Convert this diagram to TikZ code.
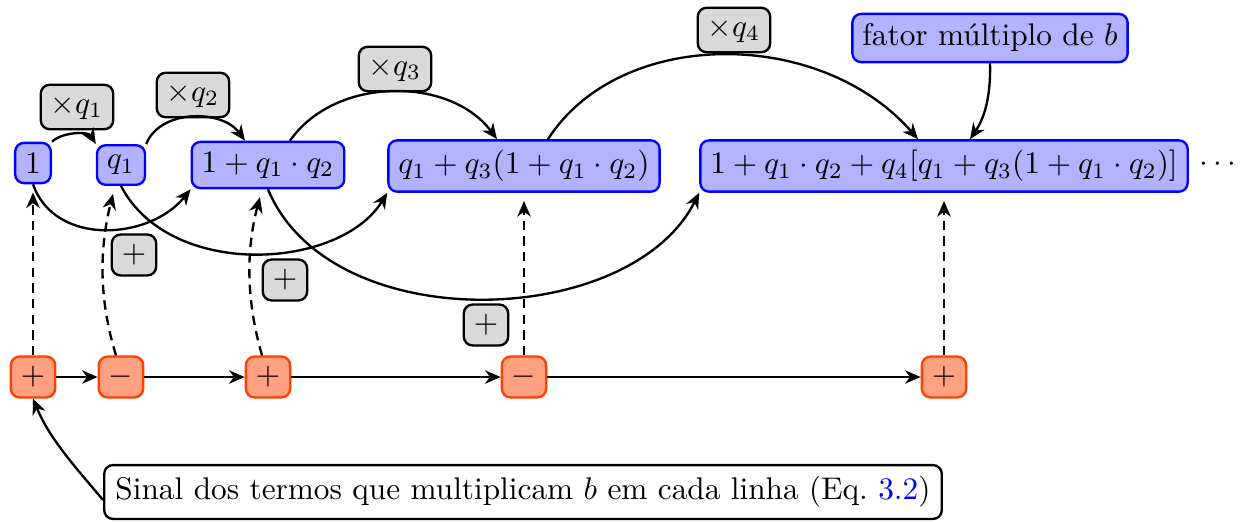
\documentclass[tikz,border=0pt]{standalone}
\usetikzlibrary{arrows.meta,calc}
\definecolor{sgnfill}{RGB}{255,160,128}
\definecolor{sgndraw}{RGB}{255,64,0}
\begin{document}
\begin{tikzpicture}[x=0.3195pt,y=-0.3195pt,
  box/.style={rounded corners=2.8pt, line width=0.75pt, inner sep=3.2pt},
  term/.style={box, draw=blue, fill=blue!30},
  oper/.style={box, draw=black, fill=gray!30},
  sgn/.style={box, draw=sgndraw, fill=sgnfill},
  note/.style={box, draw=black, fill=white, inner sep=3.6pt},
  conn/.style={line width=0.75pt, -{Stealth[length=5pt,width=4.3pt,inset=1.6pt]}},
  link/.style={conn, dash pattern=on 3pt off 2pt, shorten >=2.6pt}]
\useasboundingbox (0,0) rectangle (1241,521);

% partial sums (terms)
\node[term] (t1) at (33,163) {$1$};
\node[term] (t2) at (121,165) {$q_1$};
\node[term] (t3) at (268,165) {$1+q_1\cdot q_2$};
\node[term] (t4) at (524,166) {$q_1+q_3(1+q_1\cdot q_2)$};
\node[term] (t5) at (944,166) {$1+q_1\cdot q_2+q_4[q_1+q_3(1+q_1\cdot q_2)]$};
\node (dots) at (1218,165) {$\cdots$};
\node[term] (fator) at (990,38) {fator múltiplo de $b$};

% operation labels
\node[oper] (m1) at (77,107) {$\times q_1$};
\node[oper] (m2) at (193,95) {$\times q_2$};
\node[oper] (m3) at (395,69) {$\times q_3$};
\node[oper] (m4) at (734,30) {$\times q_4$};
\node[oper] (p1) at (134,255) {$+$};
\node[oper] (p2) at (285,280) {$+$};
\node[oper] (p3) at (486,325) {$+$};

% signs
\node[sgn] (s1) at (33,377) {$+$};
\node[sgn] (s2) at (121,377) {$-$};
\node[sgn] (s3) at (268,377) {$+$};
\node[sgn] (s4) at (524,377) {$-$};
\node[sgn] (s5) at (944,377) {$+$};

\node[note] (legend) at (523,492) {Sinal dos termos que multiplicam $b$ em cada linha (Eq.~\textcolor{blue}{3.2})};

% multiplications
\draw[conn] (t1.north east) .. controls (62,132) and (88,131) .. (t2.north west);
\draw[conn] (t2.north east) .. controls (160,109) and (222,109) .. ($(t3.north)+(-23,0)$);
\draw[conn] ($(t3.north)+(22,0)$) .. controls (335,76) and (450,76) .. ($(t4.north)+(-27,0)$);
\draw[conn] ($(t4.north)+(24,0)$) .. controls (620,27) and (820,27) .. ($(t5.north)+(-26,0)$);
\draw[conn] (fator.south) .. controls (991,100) and (983,120) .. ($(t5.north)+(26,0)$);

% additions
\draw[conn] (t1.south) .. controls (55,247) and (150,240) .. (t3.south west);
\draw[conn] (t2.south) .. controls (170,280) and (340,270) .. (t4.south west);
\draw[conn] (t3.south) .. controls (330,339) and (630,330) .. (t5.south west);

% signs to terms
\draw[link] (s1.north) -- (t1.south);
\draw[link] ($(s2.north)+(-5,0)$) .. controls (99,300) and (99,250) .. ($(t2.south)+(-6,0)$);
\draw[link] ($(s3.north)+(-6,0)$) .. controls (246,300) and (246,250) .. ($(t3.south)+(-6,0)$);
\draw[link] (s4.north) -- (t4.south);
\draw[link] (s5.north) -- (t5.south);

% sign sequence
\draw[conn] (s1) -- (s2);
\draw[conn] (s2) -- (s3);
\draw[conn] (s3) -- (s4);
\draw[conn] (s4) -- (s5);

\draw[conn] ($(legend.west)+(0,8)$) .. controls (78,470) and (50,440) .. (s1.south);
\end{tikzpicture}
\end{document}
